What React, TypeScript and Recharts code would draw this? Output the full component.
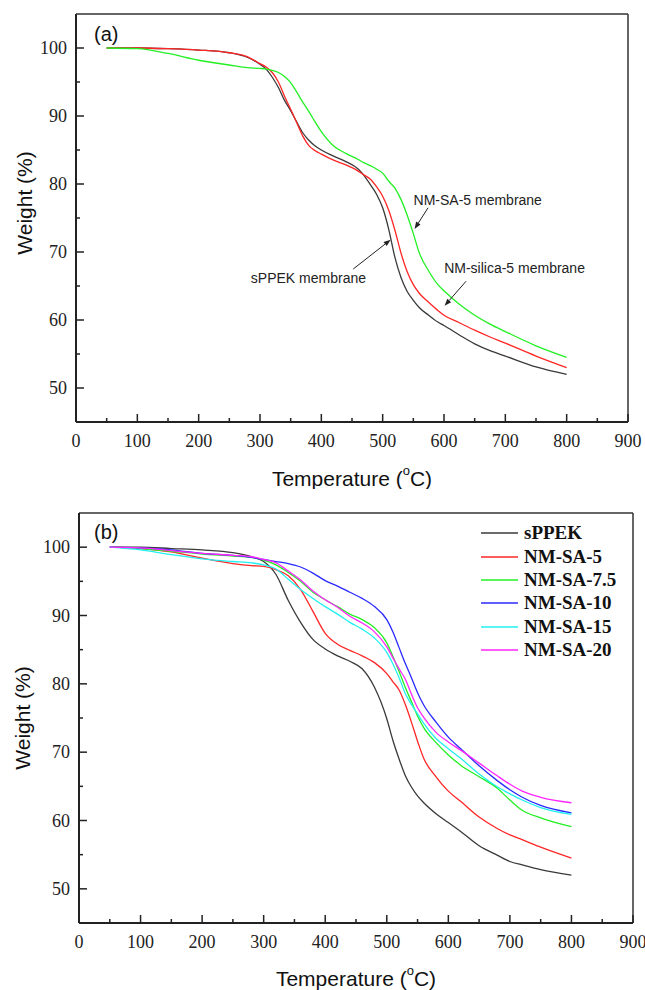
import { LineChart, Line, XAxis, YAxis, ReferenceLine, ReferenceDot, Legend } from "recharts";

const SERIF = '"Liberation Serif", "Times New Roman", Times, serif';
const SANS = '"Liberation Sans", Arial, Helvetica, sans-serif';

// axis ticks (majors get labels, the rest are short inner ticks)
const X_TICKS = [0, 50, 100, 150, 200, 250, 300, 350, 400, 450, 500, 550, 600, 650, 700, 750, 800, 850, 900];
const Y_TICKS = [50, 55, 60, 65, 70, 75, 80, 85, 90, 95, 100];

// panel (a)
const A_TEMP = [50, 100, 150, 200, 250, 280, 300, 310, 320, 330, 340, 350, 360, 370, 380, 390, 400, 420, 440, 460, 470, 480, 490, 500, 510, 520, 530, 540, 550, 560, 575, 590, 600, 625, 650, 675, 700, 750, 800];
const A_SPPEK = [100, 100, 99.9, 99.7, 99.3, 98.6, 97.6, 96.9, 95.7, 94.2, 92.3, 90.8, 89.1, 87.5, 86.4, 85.6, 85.0, 84.1, 83.3, 82.2, 81.2, 79.9, 78.5, 76.5, 73.3, 69.2, 66.2, 64.2, 62.9, 61.8, 60.7, 59.7, 59.2, 57.8, 56.5, 55.5, 54.7, 53.1, 52.0];
const A_SILICA = [100, 100, 99.9, 99.7, 99.3, 98.7, 97.7, 97.2, 96.4, 95.0, 92.9, 91.0, 89.0, 87.0, 85.6, 84.9, 84.4, 83.5, 82.8, 81.9, 81.3, 80.7, 79.6, 78.2, 76.1, 73.2, 69.8, 67.1, 65.2, 63.9, 62.6, 61.4, 60.7, 59.6, 58.5, 57.5, 56.6, 54.7, 53.0];
const A_SA5 = [100, 99.9, 99.2, 98.2, 97.5, 97.1, 97.0, 96.9, 96.7, 96.4, 95.8, 94.9, 93.5, 92.0, 90.6, 89.1, 87.7, 85.6, 84.5, 83.6, 83.1, 82.7, 82.2, 81.6, 80.4, 79.4, 77.7, 75.4, 72.7, 69.8, 67.2, 65.2, 64.3, 62.3, 60.7, 59.4, 58.3, 56.2, 54.5];

// annotations of panel (a), in data units
const A_NOTES = [
  { text: "NM-SA-5 membrane", t: 655, w: 77.7 },
  { text: "sPPEK membrane", t: 379, w: 66.2 },
  { text: "NM-silica-5 membrane", t: 715, w: 67.6 },
];
const A_ARROWS = [
  { t1: 574, w1: 76.5, t2: 552, w2: 73.4 },
  { t1: 452, w1: 67.5, t2: 513, w2: 71.8 },
  { t1: 636, w1: 65.7, t2: 601, w2: 62.1 },
];

// panel (b)
const B_TEMP = [50, 100, 150, 200, 250, 280, 300, 320, 340, 360, 380, 400, 420, 440, 460, 480, 500, 510, 520, 530, 540, 550, 560, 580, 600, 620, 650, 680, 700, 720, 750, 800];
const B_SPPEK = [100, 100, 99.8, 99.6, 99.2, 98.6, 97.9, 96.0, 92.2, 89.0, 86.5, 85.1, 84.1, 83.3, 82.2, 79.5, 74.9, 71.7, 69.0, 66.6, 64.9, 63.6, 62.6, 61.0, 59.7, 58.4, 56.3, 54.9, 54.0, 53.5, 52.8, 52.0];
const B_SA5 = [100, 99.8, 99.3, 98.4, 97.6, 97.3, 97.2, 96.7, 95.8, 93.8, 90.6, 87.4, 85.8, 84.9, 84.1, 83.1, 81.5, 80.3, 79.1, 77.0, 74.4, 71.6, 69.1, 66.4, 64.3, 62.8, 60.5, 58.8, 57.9, 57.2, 56.1, 54.5];
const B_SA75 = [100, 99.8, 99.4, 99.0, 98.7, 98.5, 98.1, 97.4, 96.3, 95.0, 93.4, 92.3, 91.3, 90.2, 89.4, 88.2, 86.0, 84.0, 81.8, 79.5, 77.4, 75.3, 73.6, 71.4, 69.6, 68.1, 66.4, 64.7, 63.0, 61.5, 60.4, 59.1];
const B_SA10 = [100, 99.9, 99.6, 99.1, 98.8, 98.5, 98.2, 97.9, 97.6, 97.1, 96.2, 95.1, 94.3, 93.4, 92.5, 91.3, 89.4, 87.6, 85.3, 83.0, 80.9, 78.7, 76.9, 74.4, 72.2, 70.5, 68.0, 65.8, 64.5, 63.4, 62.2, 61.1];
const B_SA15 = [100, 99.6, 98.9, 98.3, 97.9, 97.7, 97.4, 96.8, 95.3, 93.8, 92.5, 91.3, 90.2, 89.0, 88.0, 86.7, 84.6, 82.9, 80.9, 78.6, 77.0, 75.6, 74.2, 72.0, 70.5, 69.1, 66.8, 64.9, 63.9, 63.0, 61.9, 60.9];
const B_SA20 = [100, 99.9, 99.5, 99.1, 98.8, 98.6, 98.2, 97.7, 96.5, 95.2, 93.6, 92.3, 91.2, 89.9, 88.9, 87.6, 85.4, 83.8, 82.2, 80.7, 78.5, 76.5, 75.1, 72.9, 71.5, 70.3, 68.4, 66.5, 65.3, 64.3, 63.4, 62.6];

const A_SERIES = [
  { key: "sppek", name: "sPPEK membrane", color: "#3a3a3a", values: A_SPPEK },
  { key: "silica", name: "NM-silica-5 membrane", color: "#ff2626", values: A_SILICA },
  { key: "sa5", name: "NM-SA-5 membrane", color: "#22f022", values: A_SA5 },
];

const B_SERIES = [
  { key: "sppek", name: "sPPEK", color: "#3a3a3a", values: B_SPPEK },
  { key: "sa5", name: "NM-SA-5", color: "#ff2626", values: B_SA5 },
  { key: "sa75", name: "NM-SA-7.5", color: "#22f022", values: B_SA75 },
  { key: "sa10", name: "NM-SA-10", color: "#2a2aff", values: B_SA10 },
  { key: "sa15", name: "NM-SA-15", color: "#22f0f0", values: B_SA15 },
  { key: "sa20", name: "NM-SA-20", color: "#ff26ff", values: B_SA20 },
];

const toRows = (temps: number[], series: { key: string; values: number[] }[]) =>
  temps.map((t, i) => {
    const row: Record<string, number> = { t };
    series.forEach((s) => (row[s.key] = s.values[i]));
    return row;
  });

function XTick({ x, y, payload }: any) {
  const v = payload.value;
  const major = v % 100 === 0;
  return (
    <g>
      <line x1={x} y1={y} x2={x} y2={y - (major ? 8 : 4)} stroke="#222" strokeWidth={1.5} />
      {major && (
        <text x={x} y={y + 25} textAnchor="middle" fontSize={18} fontFamily={SERIF} fill="#222">
          {v}
        </text>
      )}
    </g>
  );
}

function YTick({ x, y, payload }: any) {
  const v = payload.value;
  const major = v % 10 === 0;
  return (
    <g>
      <line x1={x} y1={y} x2={x + (major ? 8 : 4)} y2={y} stroke="#222" strokeWidth={1.5} />
      {major && (
        <text x={x - 9} y={y + 6} textAnchor="end" fontSize={18} fontFamily={SERIF} fill="#222">
          {v}
        </text>
      )}
    </g>
  );
}

const yTitle = (dx: number, dy: number) => (props: any) => {
  const { x, y, height } = props.viewBox;
  const cx = x + dx;
  const cy = y + height / 2 + dy;
  return (
    <text x={cx} y={cy} transform={`rotate(-90, ${cx}, ${cy})`} textAnchor="middle" dominantBaseline="central" fontSize={21} fontFamily={SANS} fill="#111">
      Weight (%)
    </text>
  );
};

const xTitle = (dy: number) => (props: any) => {
  const { x, y, width } = props.viewBox;
  return (
    <text x={x + width / 2} y={y + dy} textAnchor="middle" dominantBaseline="central" fontSize={21} fontFamily={SANS} fill="#111">
      Temperature (<tspan fontSize={13} dy={-8}>o</tspan>
      <tspan dy={8}>C)</tspan>
    </text>
  );
};

function Arrow({ x1, y1, x2, y2 }: any) {
  const dx = x2 - x1;
  const dy = y2 - y1;
  const len = Math.hypot(dx, dy) || 1;
  const ux = dx / len;
  const uy = dy / len;
  const bx = x2 - ux * 7;
  const by = y2 - uy * 7;
  return (
    <g>
      <line x1={x1} y1={y1} x2={bx} y2={by} stroke="#222" strokeWidth={1} />
      <polygon points={`${x2},${y2} ${bx - uy * 2.6},${by + ux * 2.6} ${bx + uy * 2.6},${by - ux * 2.6}`} fill="#222" />
    </g>
  );
}

const noteShape = (text: string) => ({ cx, cy }: any) => (
  <text x={cx} y={cy} textAnchor="middle" dominantBaseline="central" fontSize={14} fontFamily={SANS} fill="#222">
    {text}
  </text>
);

function LegendBox() {
  return (
    <div>
      {B_SERIES.map((s) => (
        <div key={s.key} style={{ display: "flex", alignItems: "center", height: 23.3 }}>
          <svg width={37} height={4} style={{ display: "block" }}>
            <line x1={0} y1={2} x2={37} y2={2} stroke={s.color} strokeWidth={1.5} />
          </svg>
          <span style={{ marginLeft: 6, fontFamily: SERIF, fontWeight: "bold", fontSize: 19, color: "#111", lineHeight: "20px" }}>{s.name}</span>
        </div>
      ))}
    </div>
  );
}

function frame(yAxisWidth: number, yTitleX: number, yTitleShift: number, xTitleY: number) {
  return [
    <XAxis key="xtop" xAxisId="top" orientation="top" type="number" domain={[0, 900]} ticks={X_TICKS} tick={false} tickLine={false} height={1} axisLine={{ stroke: "#333", strokeWidth: 1.5 }} />,
    <YAxis key="yright" yAxisId="right" orientation="right" type="number" domain={[45, 105]} ticks={Y_TICKS} tick={false} tickLine={false} width={1} axisLine={{ stroke: "#333", strokeWidth: 1.5 }} />,
    <XAxis
      key="x"
      type="number"
      dataKey="t"
      domain={[0, 900]}
      ticks={X_TICKS}
      interval={0}
      tick={<XTick />}
      tickLine={false}
      tickSize={0}
      tickMargin={0}
      height={67}
      axisLine={{ stroke: "#222", strokeWidth: 2 }}
      label={xTitle(xTitleY)}
    />,
    <YAxis
      key="y"
      type="number"
      domain={[45, 105]}
      ticks={Y_TICKS}
      interval={0}
      tick={<YTick />}
      tickLine={false}
      tickSize={0}
      tickMargin={0}
      width={yAxisWidth}
      axisLine={{ stroke: "#222", strokeWidth: 2 }}
      label={yTitle(yTitleX, yTitleShift)}
    />,
  ];
}

const letterStyle = (top: number): React.CSSProperties => ({
  position: "absolute",
  left: 94,
  top,
  fontFamily: SANS,
  fontSize: 20,
  color: "#111",
  lineHeight: "20px",
});

export default function App() {
  const aRows = toRows(A_TEMP, A_SERIES);
  const bRows = toRows(B_TEMP, B_SERIES);

  return (
    <div style={{ position: "absolute", left: 0, top: 0, width: 645, height: 990, background: "#fff" }}>
      <div style={{ position: "absolute", left: 0, top: 0 }}>
        <LineChart width={645} height={489} data={aRows} margin={{ top: 13, right: 16, left: 0, bottom: 0 }}>
          {frame(76, 24, -15, 56)}
          {A_SERIES.map((s) => (
            <Line key={s.key} dataKey={s.key} name={s.name} type="monotone" stroke={s.color} strokeWidth={1.3} dot={false} activeDot={false} isAnimationActive={false} />
          ))}
          {A_ARROWS.map((a, i) => (
            <ReferenceLine key={"arr" + i} segment={[{ x: a.t1, y: a.w1 }, { x: a.t2, y: a.w2 }]} shape={(p: any) => <Arrow {...p} />} />
          ))}
          {A_NOTES.map((n) => (
            <ReferenceDot key={n.text} x={n.t} y={n.w} r={0} shape={noteShape(n.text)} />
          ))}
        </LineChart>
      </div>
      <div style={letterStyle(24)}>(a)</div>

      <div style={{ position: "absolute", left: 0, top: 500 }}>
        <LineChart width={645} height={490} data={bRows} margin={{ top: 12, right: 11, left: 0, bottom: 0 }}>
          {frame(79, 22, 0, 55)}
          {B_SERIES.map((s) => (
            <Line key={s.key} dataKey={s.key} name={s.name} type="monotone" stroke={s.color} strokeWidth={1.3} dot={false} activeDot={false} isAnimationActive={false} />
          ))}
          <Legend
            layout="vertical"
            align="center"
            verticalAlign="middle"
            content={<LegendBox />}
            wrapperStyle={{ position: "absolute", left: 481, top: 21.7, width: 160 }}
          />
        </LineChart>
      </div>
      <div style={letterStyle(522)}>(b)</div>
    </div>
  );
}
